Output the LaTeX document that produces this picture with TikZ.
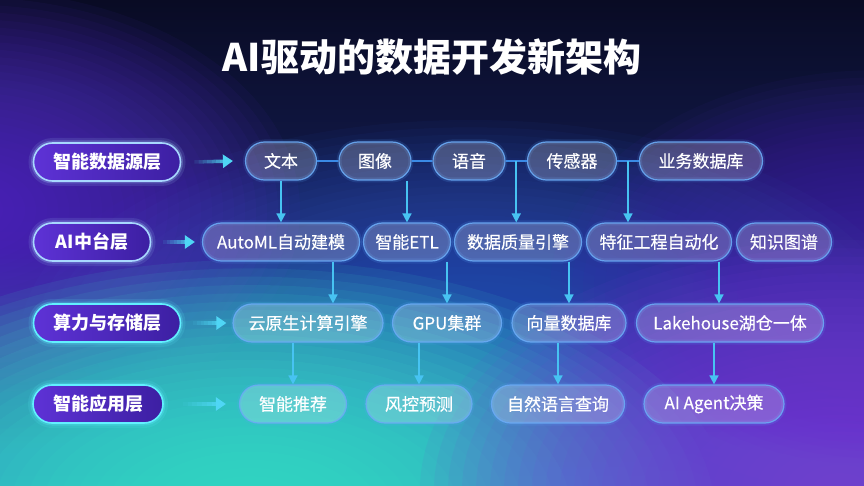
\documentclass[tikz,border=0pt]{standalone}
\usepackage{fontspec}
\newfontfamily\cjk{Noto Sans CJK SC}
\newfontfamily\cjkm[FakeBold=0.4]{Noto Sans CJK SC}
\usetikzlibrary{arrows.meta,calc}

\definecolor{bgTop}{HTML}{090B24}
\definecolor{bgMid}{HTML}{141E56}
\definecolor{bgBot}{HTML}{3156BE}
\definecolor{glowTeal}{HTML}{3BE5CC}
\definecolor{glowPurpL}{HTML}{5A2FD0}
\definecolor{glowPurpR}{HTML}{4626B0}
\definecolor{glowPurpBR}{HTML}{7B40DA}
\definecolor{glowBlue}{HTML}{2E54C0}
\definecolor{pillborder}{HTML}{6AAAF5}
\definecolor{pillglow}{HTML}{5AA8FF}
\definecolor{layL}{HTML}{5E32D6}
\definecolor{layR}{HTML}{3C1FA2}
\definecolor{layEdgeA}{HTML}{A8D8FF}
\definecolor{layEdgeB}{HTML}{62F0FF}
\definecolor{arrowc}{HTML}{47C3F2}
\definecolor{harrowc}{HTML}{4FD6F5}
\definecolor{linkc}{HTML}{3A8AE6}

\newcommand\pillfont{\cjkm\fontsize{17}{17}\selectfont}
\newcommand\layerfont{\cjk\bfseries\fontsize{18}{18}\selectfont}
\newcommand\titlefont{\cjk\bfseries\fontsize{38}{38}\selectfont}

% soft glow made of stacked translucent ellipses
\newcommand\glowblob[6]{%
  \foreach \k in {1,...,30}{%
    \fill[#1, fill opacity=#6] (#2,#3) ellipse [x radius={#4*\k/30}, y radius={#5*\k/30}];}}

% horizontal arrow whose shaft fades in from the left
\newcommand\fadearrow[2]{%
  \foreach \i [evaluate=\i as \fa using \i/9, evaluate=\i as \fb using (\i+1)/9,
               evaluate=\i as \op using (\i+1)/9] in {0,...,7}{%
    \draw[hshaft, draw opacity=\op] ($(#1)!\fa!(#2)$) -- ($(#1)!\fb!(#2)$);}%
  \draw[hshaft, -{Triangle[length=10pt,width=13pt]}] ($(#1)!0.8889!(#2)$) -- (#2);}

\tikzset{
  pill/.style={shape=rectangle, draw=pillborder, line width=1.2pt, draw opacity=0.9,
    fill=white, fill opacity=0.21, text opacity=1, text=white,
    rounded corners=19pt, minimum height=38pt, inner xsep=0pt, font=\pillfont,
    preaction={draw=pillglow, line width=5pt, draw opacity=0.14}},
  layer/.style={shape=rectangle, draw=#1, line width=1.6pt, left color=layL, right color=layR,
    rounded corners=19pt, minimum height=38pt, inner xsep=0pt, text=white, font=\layerfont,
    preaction={draw=#1, line width=10pt, draw opacity=0.12},
    preaction={draw=#1, line width=5pt, draw opacity=0.25}},
  arr/.style={draw=arrowc, line width=1.6pt, -{Triangle[length=9pt,width=9pt]}},
  link/.style={draw=linkc, line width=1.6pt},
  hshaft/.style={draw=harrowc, line width=3.5pt},
}

\begin{document}
\begin{tikzpicture}[x=1pt,y=-1pt]
\useasboundingbox (0,0) rectangle (864,486);
% background
\shade[top color=bgTop, bottom color=bgBot, middle color=bgMid] (0,0) rectangle (864,486);
\glowblob{glowBlue}{470}{340}{450}{220}{0.06}
\glowblob{glowPurpL}{-30}{210}{330}{220}{0.06}
\glowblob{glowPurpR}{880}{290}{330}{220}{0.06}
\glowblob{glowTeal}{250}{510}{480}{250}{0.085}
\glowblob{glowPurpBR}{840}{490}{420}{250}{0.07}

% title
\node[text=white, font=\titlefont] (title) at (432,57) {AI驱动的数据开发新架构};

% layer labels
\node[layer=layEdgeA, minimum width=147pt] (l1) at (107,162) {智能数据源层};
\node[layer=layEdgeA, minimum width=117pt] (l2) at (92,242) {AI中台层};
\node[layer=layEdgeB, minimum width=147pt] (l3) at (107,323) {算力与存储层};
\node[layer=layEdgeB, minimum width=130pt] (l4) at (98,404) {智能应用层};

% row 1
\node[pill, minimum width=71pt] (t1) at (281,161) {文本};
\node[pill, minimum width=72pt] (t2) at (375,161) {图像};
\node[pill, minimum width=72pt] (t3) at (469,161) {语音};
\node[pill, minimum width=89pt] (t4) at (572,161) {传感器};
\node[pill, minimum width=123pt] (t5) at (701,161) {业务数据库};

% row 2
\node[pill, minimum width=157pt] (m1) at (281,242) {AutoML自动建模};
\node[pill, minimum width=87pt] (m2) at (407,242) {智能ETL};
\node[pill, minimum width=127pt] (m3) at (518,242) {数据质量引擎};
\node[pill, minimum width=145pt] (m4) at (659,242) {特征工程自动化};
\node[pill, minimum width=95pt] (m5) at (784,242) {知识图谱};

% row 3
\node[pill, minimum width=150pt] (c1) at (308,323) {云原生计算引擎};
\node[pill, minimum width=109pt] (c2) at (447,323) {GPU集群};
\node[pill, minimum width=114pt] (c3) at (569,323) {向量数据库};
\node[pill, minimum width=187pt] (c4) at (730,323) {Lakehouse湖仓一体};

% row 4
\node[pill, minimum width=107pt] (a1) at (293,404) {智能推荐};
\node[pill, minimum width=106pt] (a2) at (419,404) {风控预测};
\node[pill, minimum width=133pt] (a3) at (558,404) {自然语言查询};
\node[pill, minimum width=140pt] (a4) at (714,404) {AI Agent决策};

% layer arrows
\coordinate (h1s) at ([xshift=13pt]l1.east);  \coordinate (h1e) at ([xshift=-12pt]t1.west);
\coordinate (h2s) at ([xshift=12pt]l2.east);  \coordinate (h2e) at ([xshift=-7pt]m1.west);
\coordinate (h3s) at ([xshift=12pt]l3.east);  \coordinate (h3e) at ([xshift=-6pt]c1.west);
\coordinate (h4s) at ([xshift=19pt]l4.east);  \coordinate (h4e) at ([xshift=-13pt]a1.west);
\fadearrow{h1s}{h1e}
\fadearrow{h2s}{h2e}
\fadearrow{h3s}{h3e}
\fadearrow{h4s}{h4e}

% row 1 links
\draw[link] (t1.east) -- (t2.west);
\draw[link] (t2.east) -- (t3.west);
\draw[link] (t3.east) -- (t4.west);
\draw[link] (t4.east) -- (t5.west);
\coordinate (j1) at ($(t3.east)!0.5!(t4.west)$);
\coordinate (j2) at ($(t4.east)!0.5!(t5.west)$);

% row 1 -> row 2
\draw[arr] (t1.south) -- (m1.north);
\draw[arr] (m2.north |- t2.south) -- (m2.north);
\draw[arr] (j1) -- (j1 |- m3.north);
\draw[arr] (j2) -- (j2 |- m4.north);

% row 2 -> row 3
\draw[arr] ([xshift=52pt]m1.south) -- ([xshift=52pt]m1.south |- c1.north);
\draw[arr] (c2.north |- m2.south) -- (c2.north);
\draw[arr] (c3.north |- m3.south) -- (c3.north);
\draw[arr] ([xshift=60pt]m4.south) -- ([xshift=60pt]m4.south |- c4.north);

% row 3 -> row 4
\draw[arr] (a1.north |- c1.south) -- (a1.north);
\draw[arr] (a2.north |- c2.south) -- (a2.north);
\draw[arr] (a3.north |- c3.south) -- (a3.north);
\draw[arr] (a4.north |- c4.south) -- (a4.north);
\end{tikzpicture}
\end{document}
